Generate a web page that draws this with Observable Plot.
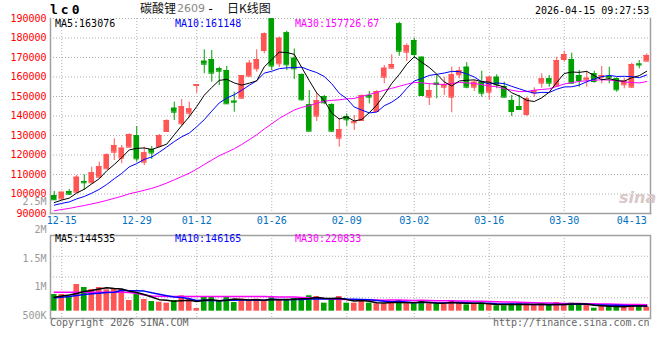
<!DOCTYPE html>
<html><head><meta charset="utf-8">
<script src="https://cdn.jsdelivr.net/npm/d3@7"></script>
<script src="https://cdn.jsdelivr.net/npm/@observablehq/plot@0.6"></script>
<style>
body{margin:0;background:#fff;}
#wrap{position:relative;width:660px;height:360px;overflow:hidden;background:#fff;font-family:"DejaVu Sans Mono",monospace;}
#wrap svg{position:absolute;left:0;}
.t{position:absolute;white-space:nowrap;font-size:10px;line-height:10px;font-family:"DejaVu Sans Mono",monospace;}
</style></head><body><div id="wrap"></div>
<script>
// ---- data ----
const dates = ["12-12","12-15","12-16","12-17","12-18","12-19","12-22","12-23","12-24","12-25","12-26","12-29","12-30","12-31",
"01-05","01-06","01-07","01-08","01-09","01-12","01-13","01-14","01-15","01-16","01-19","01-20","01-21","01-22","01-23","01-26","01-27","01-28","01-29","01-30",
"02-02","02-03","02-04","02-05","02-06","02-09","02-10","02-11","02-12","02-13","02-24","02-25","02-26","02-27",
"03-02","03-03","03-04","03-05","03-06","03-09","03-10","03-11","03-12","03-13","03-16","03-17","03-18","03-19","03-20","03-23","03-24","03-25","03-26","03-27","03-30","03-31",
"04-01","04-02","04-03","04-07","04-08","04-09","04-10","04-13","04-14","04-15"];
const opens = [99230,97440,101280,100920,106410,105740,108610,112920,121430,118360,
124000,130000,116310,122820,124360,132050,144000,136000,141430,155640,
168100,168970,164200,163330,147590,149130,160410,164200,173590,189840,
166770,182660,169640,161280,145740,139900,150000,145900,128610,139740,
136510,137690,150510,142310,159890,164510,187280,172710,178710,170150,
149640,156820,154770,149640,161130,165020,154770,157330,152200,159890,
155130,147950,144870,140770,151900,156820,159070,155280,168970,168970,
160770,158560,161640,159890,160250,159070,156000,154770,166660,168100];
const highs = [101280,101020,102310,109490,109840,113740,116310,120620,128310,124870,
130870,134610,124000,124360,130510,138050,147080,148460,147080,156150,
173950,173590,165020,165380,152200,160770,168460,173950,182660,190000,
180510,183480,174360,161640,153070,151380,150510,146250,138560,141130,
140250,150870,152560,153070,165890,171380,188100,177020,179890,170150,
156510,160770,159890,165020,165020,167330,158200,162970,160250,161130,
157330,150510,150510,149640,154460,161640,160770,170150,173230,172200,
163330,162970,162970,165380,165020,159590,159380,167070,168460,171890];
const lows = [96670,96670,99230,100410,101790,105230,108100,112560,117180,115490,
123850,116310,114610,117690,123840,131690,137690,134610,139080,151690,
161640,157330,155640,145900,141950,148820,159890,162460,171890,163330,
164870,163330,158720,147590,132050,137180,145740,131690,124000,134770,
132560,137180,146250,141950,156510,164200,170660,167950,169330,150510,
145380,148820,150510,141640,159070,153950,152560,149640,148310,153950,
149330,139740,143330,139740,149640,154250,154770,154770,167590,156510,
154770,154770,156820,156510,156510,152200,153950,154250,164200,168100];
const closes = [97030,100920,99900,108610,105740,110870,114100,120100,124870,123490,
130510,118050,121130,121020,130000,137690,141950,144870,143690,156150,
166560,161950,162970,146250,147080,160770,167070,168970,182150,165640,
179890,166250,164200,148310,132200,147950,146770,132200,133080,138050,
137180,150510,149640,152560,164510,166410,173230,176150,171540,150510,
153070,156150,156150,161130,163330,154770,157330,151690,159890,156000,
149640,142310,143330,148820,153070,159070,156820,168460,171540,156820,
158200,159380,157690,160770,159590,153430,157840,166410,166150,171020];
const volumes = [870000,870000,834000,1046000,993000,958000,993000,952000,975000,958000,
764000,870000,782000,746000,734000,717000,764000,847000,776000,623000,
822000,817000,764000,817000,729000,787000,764000,787000,764000,812000,
764000,782000,799000,812000,847000,834000,717000,794000,834000,717000,
717000,764000,717000,706000,706000,746000,764000,706000,706000,764000,
706000,706000,706000,764000,717000,688000,694000,717000,706000,671000,
671000,706000,706000,706000,681000,681000,681000,729000,694000,717000,
681000,681000,628000,658000,658000,658000,658000,694000,671000,646000];
// moving-average values before a full window exists
const ma5Lead = [95600,96890,97870,100490];
const ma10Lead = [94300,95190,95930,97500,98720,100410,102370,104880,107810];
const ma30Lead = [91380,92050,92620,93380,94100,94920,95740,96720,97790,98820,100100,100970,101900,102870,104150,105640,107280,108970,110670,112770,115130,117380,119640,121380,123180,125430,127840,130360,133330];
const vma5Lead = [822000,843000,861000,887000];
const vma10Lead = [812000,822000,834000,852000,870000,882000,893000,905000,910000];
const vma30Lead = [910000,910000,910000,910000,910000,910000,910000,910000,910000,910000,905000,887000,861000,843000,838000,834000,834000,834000,834000,834000,834000,834000,834000,834000,834000,834000,834000,834000,834000];
const priceTicks = [90000,100000,110000,120000,130000,140000,150000,160000,170000,180000,190000];
const tickDates = ["12-15","12-29","01-12","01-26","02-09","03-02","03-16","03-30","04-13"];
const gridDates = ["12-15","12-29","01-12","01-26","02-09","03-02","03-16","03-30"];
const volTicks = [500000,1000000,1500000,2000000,2500000];
const volTickLabels = ["500K","1M","1.5M","2M","2.5M"];
const volDomain = [447000,1908000];
const volBase = 576000;
const legendMain = ["MA5:163076","MA10:161148","MA30:157726.67"];
const legendVol = ["MA5:144535","MA10:146165","MA30:220833"];

// ---- build ----
const RED = "#ff5555", GREEN = "#00a000", GRID = "#b0b0b0", BORDER = "#a0a0a0";
const rows = dates.map((d,i)=>({date:d, open:opens[i], high:highs[i], low:lows[i], close:closes[i], vol:volumes[i], up: closes[i] >= opens[i]}));
const col = d => d.up ? RED : GREEN;
const roll = (vals,k,lead) => vals.map((v,i)=> i < k-1 ? lead[i] : d3.mean(vals.slice(i-k+1,i+1)));
const ma5 = roll(closes,5,ma5Lead), ma10 = roll(closes,10,ma10Lead), ma30 = roll(closes,30,ma30Lead);
const v5 = roll(volumes,5,vma5Lead), v10 = roll(volumes,10,vma10Lead), v30 = roll(volumes,30,vma30Lead);
const maRows = dates.map((d,i)=>({date:d, m5:ma5[i], m10:ma10[i], m30:ma30[i], v5:v5[i], v10:v10[i], v30:v30[i]}));
const xOpt = {type:"band", domain: dates, paddingInner: 0.25, paddingOuter: 0.125, axis: null, label: null};
const dot = {stroke: GRID, strokeOpacity: 1, strokeDasharray: "1,2"};
const st = {fontFamily: "DejaVu Sans Mono", fontSize: "10px", background: "transparent", overflow: "visible"};

const main = Plot.plot({
  width: 660, height: 227, marginLeft: 50, marginRight: 10, marginTop: 18, marginBottom: 14,
  x: xOpt, y: {domain: [90000,190000], axis: null, label: null}, color: {type: "identity"}, style: st,
  marks: [
    Plot.gridY(priceTicks.slice(1), dot),
    Plot.gridX(gridDates, dot),
    Plot.frame({anchor: "left", stroke: BORDER, strokeWidth: 1.5}),
    Plot.frame({anchor: "bottom", stroke: BORDER, strokeWidth: 1.5}),
    Plot.frame({anchor: "right", stroke: BORDER, strokeWidth: 1.5}),
    Plot.axisY(priceTicks, {tickSize: 0, tickPadding: 4, color: "#ff0000", tickFormat: d => String(d), label: null}),
    Plot.axisX(tickDates, {tickSize: 0, tickPadding: 3, color: "#0070c0", label: null}),
    Plot.ruleX(rows, {x: "date", y1: "low", y2: "high", stroke: col, strokeWidth: 1}),
    Plot.barY(rows, {x: "date", y1: "open", y2: "close", fill: col}),
    Plot.tickY(rows, {x: "date", y: "close", stroke: col}),
    Plot.tickY(rows, {x: "date", y: "open", stroke: col}),
    Plot.lineY(maRows, {x: "date", y: "m30", stroke: "#ff00ff", strokeWidth: 1}),
    Plot.lineY(maRows, {x: "date", y: "m10", stroke: "#0000ff", strokeWidth: 1}),
    Plot.lineY(maRows, {x: "date", y: "m5", stroke: "#000000", strokeWidth: 1})
  ]
});
main.style.top = "0px";

const volGrid = [1,2,3].map(k => volDomain[0] + k*(volDomain[1]-volDomain[0])/4);
const vol = Plot.plot({
  width: 660, height: 170, marginLeft: 50, marginRight: 10, marginTop: 45, marginBottom: 42,
  x: xOpt, y: {domain: volDomain, axis: null, label: null}, color: {type: "identity"}, style: st,
  marks: [
    Plot.gridY(volGrid, dot),
    Plot.gridX(gridDates, dot),
    Plot.barY(rows, {x: "date", y1: volBase, y2: "vol", fill: col}),
    Plot.lineY(maRows, {x: "date", y: "v30", stroke: "#ff00ff", strokeWidth: 1.5}),
    Plot.lineY(maRows, {x: "date", y: "v10", stroke: "#0000ff", strokeWidth: 1.5}),
    Plot.lineY(maRows, {x: "date", y: "v5", stroke: "#000000", strokeWidth: 1.5}),
    Plot.frame({stroke: BORDER, strokeWidth: 1.5}),
    Plot.text(volTicks, {y: d => d, text: (d,i) => volTickLabels[i], frameAnchor: "left", textAnchor: "end", dx: -4, fill: "#999999"})
  ]
});
vol.style.top = "190px";

const wrap = document.getElementById("wrap");
wrap.appendChild(vol);
wrap.appendChild(main);

function addText(txt, left, top, css) {
  const s = document.createElement("span");
  s.className = "t"; s.textContent = txt;
  s.style.left = left + "px"; s.style.top = top + "px";
  if (css) s.setAttribute("style", s.getAttribute("style") + ";" + css);
  wrap.appendChild(s);
}
addText("lc0", 50, 3, "font-weight:bold;font-size:13px;line-height:13px;letter-spacing:3px;color:#000");
addText("碳酸锂", 140, 2, "font-family:'Noto Sans CJK SC';font-size:12px;line-height:12px;color:#111");
addText("2609", 177, 3, "font-family:'DejaVu Sans';font-size:11px;line-height:11px;color:#888");
addText("-", 207, 3, "font-size:12px;line-height:12px;color:#000");
addText("日K线图", 227, 2, "font-family:'Noto Sans CJK SC';font-size:12px;line-height:12px;color:#111");
addText("2026-04-15 09:27:53", 535, 6, "color:#000");
const mc = ["#000000","#0000ff","#ff00ff"], mx = [55,175,295];
legendMain.forEach((t,i)=>addText(t, mx[i], 19, "color:" + mc[i]));
legendVol.forEach((t,i)=>addText(t, mx[i], 234, "color:" + mc[i]));
addText("Copyright 2026 SINA.COM", 50, 318, "color:#666");
addText("http://finance.sina.com.cn", 493, 318, "color:#666");
addText("sina", 619, 190, "font-family:'DejaVu Sans';font-style:italic;font-weight:bold;font-size:16px;line-height:16px;color:#d8c8c8");
</script></body></html>
